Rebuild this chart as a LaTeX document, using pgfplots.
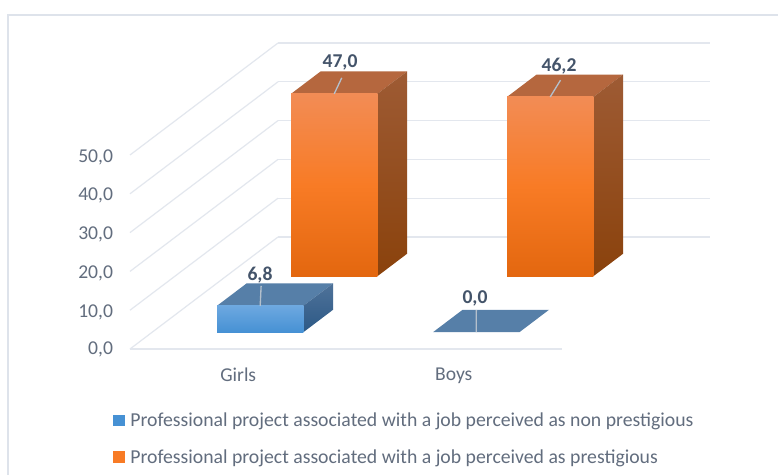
\documentclass[border=0pt]{standalone}
\usepackage{fontspec}
\setmainfont{Carlito}
\usepackage{pgfplots}
\pgfplotsset{compat=1.18}
\definecolor{gridc}{HTML}{E3E7EE}
\definecolor{framec}{HTML}{DEE3EB}
\definecolor{txtc}{HTML}{626D7E}
\definecolor{lblc}{HTML}{44546A}
\definecolor{leadc}{HTML}{B4C0CC}
\definecolor{otop}{HTML}{B5673E}
\definecolor{btop}{HTML}{567FA8}
\definecolor{F1}{HTML}{F28C55}
\definecolor{F2}{HTML}{F87B25}
\definecolor{F3}{HTML}{E3670F}
\definecolor{S1}{HTML}{9E5B34}
\definecolor{S2}{HTML}{8A420C}
\definecolor{B1}{HTML}{6DA8E0}
\definecolor{B2}{HTML}{4691D4}
\definecolor{T1}{HTML}{4F7299}
\definecolor{T2}{HTML}{2C5986}
\tikzset{
  ofront/.style={shading=axis,top color=F1,bottom color=F3,middle color=F2},
  oside/.style={shading=axis,top color=S1,bottom color=S2},
  bfront/.style={shading=axis,top color=B1,bottom color=B2},
  bside/.style={shading=axis,top color=T1,bottom color=T2},
}
% #1 x left, #2 x right, #3 y front, #4 y back, #5 value, #6 front style, #7 side style, #8 top colour
\newcommand{\barbox}[8]{%
  \addplot3[forget plot,draw=none,fill=#8] coordinates {(#1,#3,#5) (#2,#3,#5) (#2,#4,#5) (#1,#4,#5) (#1,#3,#5)};
  \addplot3[forget plot,draw=none,#7] coordinates {(#2,#3,0) (#2,#4,0) (#2,#4,#5) (#2,#3,#5) (#2,#3,0)};
  \addplot3[forget plot,draw=none,#6] coordinates {(#1,#3,0) (#2,#3,0) (#2,#3,#5) (#1,#3,#5) (#1,#3,0)};
}
\begin{document}
\begin{tikzpicture}[x=1pt,y=1pt]
\useasboundingbox (0,0) rectangle (583.5,356.25);
\fill[white] (0,0) rectangle (583.5,356.25);
\draw[framec,line width=1.4pt] (6.2,0) -- (6.2,345.1) -- (583.5,345.1);
\begin{axis}[
  at={(97.5pt,94.5pt)}, anchor=origin,
  x={(162pt,0pt)}, y={(55.5pt,42pt)}, z={(0pt,2.91pt)},
  xmin=0.5,xmax=2.5,ymin=0.5,ymax=2.5,zmin=0,zmax=50,
  axis lines*=left, clip=false,
  x axis line style={draw=gridc,line width=0.9pt},
  y axis line style={draw=none},
  z axis line style={draw=none},
  xtick={1,2}, xticklabels={Girls,Boys}, ytick=\empty, ztick={0,10,20,30,40,50},
  zmajorgrids=true, grid style={draw=gridc,line width=0.9pt},
  major tick length=0pt,
  tick label style={font=\fontsize{14.7}{16}\selectfont,text=txtc},
  xticklabel style={yshift=-10.75pt,xshift=4.5pt},
  zticklabel style={xshift=-9.25pt,yshift=4pt},
  /pgf/number format/.cd,fixed,fixed zerofill,precision=1,use comma,assume math mode=true,
  /pgfplots/legend style={at={(axis description cs:-0.029,-0.2)},anchor=north west,draw=none,fill=none,inner sep=0pt,
     font=\fontsize{14.8}{16}\selectfont,text=txtc,row sep=11.5pt},
  /pgfplots/legend cell align=left,
]
\addlegendimage{legend image code/.code={\fill[B2] (0.8pt,-3.5pt) rectangle (8.8pt,4.5pt);}}
\addlegendentry{\hspace*{2.3pt}Professional project associated with a job perceived as non prestigious}
\addlegendimage{legend image code/.code={\fill[F2] (0.8pt,-3.5pt) rectangle (8.8pt,4.5pt);}}
\addlegendentry{\hspace*{2.3pt}Professional project associated with a job perceived as prestigious}
% orange series (back row)
\barbox{0.8}{1.2}{1.8}{2.2}{47.0}{ofront}{oside}{otop}
\barbox{1.8}{2.2}{1.8}{2.2}{46.2}{ofront}{oside}{otop}
% blue series (front row)
\barbox{0.8}{1.2}{0.8}{1.2}{6.8}{bfront}{bside}{btop}
\addplot3[forget plot,draw=none,fill=btop] coordinates {(1.8,0.8,0) (2.2,0.8,0) (2.2,1.2,0) (1.8,1.2,0) (1.8,0.8,0)};
% leader lines
\addplot3[forget plot,leadc,line width=1pt] coordinates {(1,1.8,47.0) (0.937,2.086,47.0)};
\addplot3[forget plot,leadc,line width=1pt] coordinates {(2,1.8,46.2) (1.945,2.1,46.2)};
\addplot3[forget plot,leadc,line width=1pt] coordinates {(1,0.8,6.8) (0.882,1.157,6.8)};
\addplot3[forget plot,leadc,line width=1pt] coordinates {(2,0.8,0) (1.866,1.193,0)};
% data labels
\tikzset{dl/.style={font=\bfseries\fontsize{14.7}{16}\selectfont,text=lblc,inner sep=0pt,anchor=center}}
\node[dl,xshift=-6.75pt,yshift=15pt] at (axis cs:1,2,47.0) {47,0};
\node[dl,xshift=-4.5pt,yshift=15pt] at (axis cs:2,2,46.2) {46,2};
\node[dl,xshift=-11.25pt,yshift=15pt] at (axis cs:1,1,6.8) {6,8};
\node[dl,xshift=-12pt,yshift=17.25pt] at (axis cs:2,1,0) {0,0};
\end{axis}
\end{tikzpicture}
\end{document}
